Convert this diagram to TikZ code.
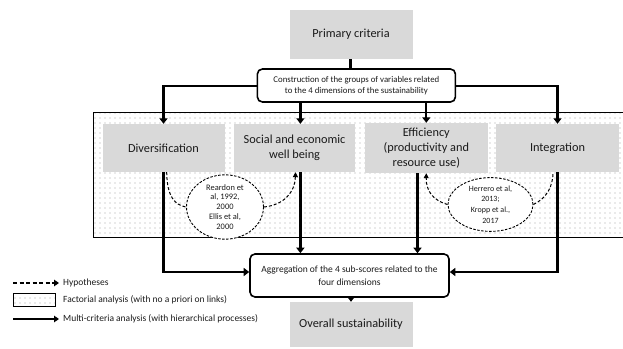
\documentclass[tikz,border=0pt]{standalone}
\usepackage{fontspec}
\setmainfont{Carlito}
\usetikzlibrary{arrows.meta,shapes.geometric,patterns.meta,positioning}
\definecolor{boxgray}{HTML}{D9D9D9}
\definecolor{txt}{HTML}{1A1A1A}
\tikzset{
  graybox/.style={fill=boxgray, draw=none, align=center, inner sep=0pt, font=\fontsize{12.3}{14.8}\selectfont, text=txt},
  roundbox/.style={draw=black, line width=1.6pt, rounded corners=5pt, fill=white, align=center, inner sep=0pt, text=txt},
  refell/.style={ellipse, draw=black, dash pattern=on 2.5pt off 1.5pt, line width=0.9pt, fill=white, inner sep=0pt, align=center, text=txt},
  conn/.style={line width=2.2pt, -{Triangle[length=5.5pt,width=8pt]}},
  plainconn/.style={line width=2.2pt},
  hyp/.style={line width=1pt, dash pattern=on 3pt off 2pt},
  hyparr/.style={hyp, -{Triangle[length=5pt,width=5pt]}},
  legtext/.style={anchor=west, inner sep=0pt, font=\fontsize{9.5}{11}\selectfont, text=txt},
  dotfill/.style={pattern={Dots[distance=5pt, radius=0.55pt]}, pattern color=black!35}
}
\begin{document}
\begin{tikzpicture}[x=1pt,y=-1pt]
\useasboundingbox (0,0) rectangle (623,348);
% dotted background (factorial analysis), open on the right
\fill[dotfill] (93,112) rectangle (623,237.5);
\draw[line width=1pt] (623,112) -- (93,112) -- (93,237.5) -- (623,237.5);
% boxes
\node[graybox, minimum width=123pt, minimum height=49pt] (prim) at (351,34.5) {Primary criteria};
\node[roundbox, minimum width=198pt, minimum height=33pt, font=\fontsize{8.8}{11.5}\selectfont] (cons) at (356.4,85.5) {Construction of the groups of variables related\\to the 4 dimensions of the sustainability};
\node[graybox, minimum width=122pt, minimum height=48pt] (div) at (163.5,148) {Diversification};
\node[graybox, minimum width=120.4pt, minimum height=48pt] (soc) at (294.6,148) {Social and economic\\well being};
\node[graybox, minimum width=123pt, minimum height=50pt] (eff) at (426.3,148) {Efficiency\\(productivity and\\resource use)};
\node[graybox, minimum width=123pt, minimum height=48pt] (integ) at (557.5,148) {Integration};
\node[roundbox, minimum width=199pt, minimum height=43pt, font=\fontsize{9.5}{12.5}\selectfont] (agg) at (349.5,275.5) {Aggregation of the 4 sub-scores related to the\\four dimensions};
\node[graybox, minimum width=123pt, minimum height=45pt] (over) at (351,324.5) {Overall sustainability};
% ellipses
\node[refell, minimum width=77pt, minimum height=52pt, font=\fontsize{8.4}{9.9}\selectfont] (e1) at (225,207) {Reardon et\\al, 1992,\\2000\\Ellis et al,\\2000};
\node[refell, minimum width=85pt, minimum height=45pt, font=\fontsize{8}{10.8}\selectfont] (e2) at (490.5,204.5) {Herrero et al,\\2013;\\Kropp et al.,\\2017};
% helper coordinates
\coordinate (px) at (350.4,0);
\coordinate (hy) at (0,86);
\coordinate (ly) at (0,272);
\coordinate (sx) at (300.4,0);
\coordinate (ex) at (417.5,0);
\coordinate (d1) at (166.7,0);
\coordinate (s1) at (295.5,0);
\coordinate (i1) at (553,0);
% top connectors
\draw[plainconn] (prim.south -| px) -- (cons.north -| px);
\draw[conn] (cons.west |- hy) -| (div.north);
\draw[conn] (cons.east |- hy) -| (integ.north);
\draw[conn] (cons.south -| sx) -- (soc.north -| sx);
\draw[conn] (cons.south -| eff.north) -- (eff.north);
% lower connectors
\draw[conn] (div.south) |- (agg.west |- ly);
\draw[conn] (integ.south) |- (agg.east |- ly);
\draw[conn] (soc.south -| sx) -- (agg.north -| sx);
\draw[conn] (eff.south -| ex) -- (agg.north -| ex);
\draw[conn] (agg.south -| over.north) -- (over.north);
% hypotheses curves
\draw[hyp] (div.south -| d1) .. controls (167,197) and (175,205) .. (e1.west);
\draw[hyparr] (e1.east) .. controls (284,205) and (295,192) .. (soc.south -| s1);
\draw[hyparr] (e2.west) .. controls (432,200) and (426,190) .. (eff.south);
\draw[hyp] (e2.east) .. controls (547,198) and (553,186) .. (integ.south -| i1);
% legend
\coordinate (l1a) at (13,283);
\coordinate (l1b) at (59,283);
\coordinate (l3a) at (13,319);
\coordinate (l3b) at (59,319);
\draw[line width=1.8pt, dash pattern=on 4pt off 2.5pt, -{Triangle[length=5pt,width=6.5pt]}] (l1a) -- (l1b);
\node[legtext] (lt1) at (63,283) {Hypotheses};
\node[draw=black, line width=0.9pt, dotfill, minimum width=42pt, minimum height=13pt, inner sep=0pt] (lbox) at (34,299.5) {};
\node[legtext] (lt2) at (63,300) {Factorial analysis (with no a priori on links)};
\draw[line width=1.8pt, -{Triangle[length=5pt,width=6.5pt]}] (l3a) -- (l3b);
\node[legtext] (lt3) at (63,319) {Multi-criteria analysis (with hierarchical processes)};
\end{tikzpicture}
\end{document}
